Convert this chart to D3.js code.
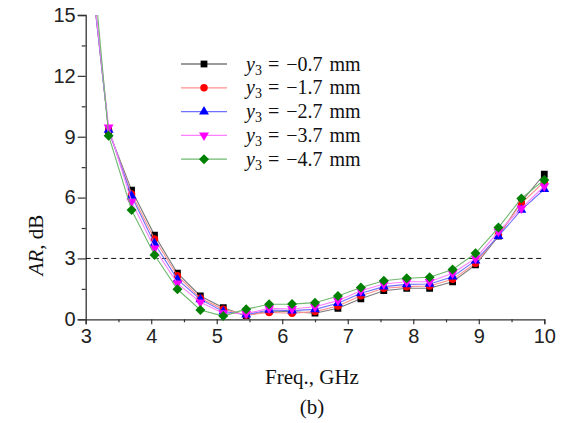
<!DOCTYPE html>
<html>
<head>
<meta charset="utf-8">
<script src="https://cdn.jsdelivr.net/npm/d3@7"></script>
<style>
  html, body { margin: 0; padding: 0; background: #fff; }
  svg { display: block; }
</style>
</head>
<body>
<svg id="chart" width="570" height="423"></svg>
<script>
// Frequency sweep (GHz)
const freq = [3.0, 3.35, 3.7, 4.05, 4.4, 4.75, 5.1, 5.45, 5.8, 6.15, 6.5, 6.85, 7.2, 7.55, 7.9, 8.25, 8.6, 8.95, 9.3, 9.65, 10.0];

// Axial ratio (dB) for each y3 offset
const ar07 = [19.6, 9.30, 6.37, 4.15, 2.27, 1.15, 0.57, 0.18, 0.41, 0.38, 0.30, 0.54, 1.01, 1.41, 1.53, 1.53, 1.85, 2.68, 4.10, 5.80, 7.15];
const ar17 = [19.6, 9.30, 6.18, 3.96, 2.15, 1.04, 0.49, 0.21, 0.34, 0.30, 0.38, 0.66, 1.16, 1.53, 1.61, 1.64, 1.97, 2.76, 4.15, 5.72, 6.78];
const ar27 = [19.6, 9.33, 6.08, 3.74, 1.97, 0.98, 0.38, 0.23, 0.46, 0.43, 0.49, 0.79, 1.28, 1.61, 1.72, 1.74, 2.10, 2.89, 4.10, 5.39, 6.41];
const ar37 = [19.8, 9.46, 5.80, 3.50, 1.77, 0.84, 0.30, 0.28, 0.54, 0.51, 0.62, 0.92, 1.41, 1.74, 1.85, 1.85, 2.27, 3.00, 4.32, 5.47, 6.57];
const ar47 = [21.5, 9.05, 5.39, 3.17, 1.48, 0.46, 0.16, 0.50, 0.74, 0.75, 0.82, 1.15, 1.57, 1.90, 2.02, 2.07, 2.46, 3.25, 4.52, 5.96, 6.87];

const seriesLabels = ["\u22120.7", "\u22121.7", "\u22122.7", "\u22123.7", "\u22124.7"];
const seriesValues = [ar07, ar17, ar27, ar37, ar47];
const seriesColors = ["#000000", "#ff0000", "#0000ff", "#ff00ff", "#008000"];
const lineColors = ["#7a7a7a", "#ff9090", "#7070ff", "#ff80ff", "#70b870"];
const markerShapes = ["square", "circle", "triUp", "triDown", "diamond"];

const xTicks = [3, 4, 5, 6, 7, 8, 9, 10];
const yTicks = [0, 3, 6, 9, 12, 15];
const threshold = 3;

const svg = d3.select("#chart");
const mLeft = 85.7, mRight = 544.3, mTop = 15, mBottom = 319.3;

const x = d3.scaleLinear().domain([3, 10]).range([mLeft, mRight]);
const y = d3.scaleLinear().domain([0, 15]).range([mBottom, mTop]);

svg.append("defs").append("clipPath").attr("id", "plotClip")
  .append("rect").attr("x", mLeft - 10).attr("y", mTop).attr("width", mRight - mLeft + 20).attr("height", mBottom - mTop + 10);

// Axes
const axisColor = "#333";
const xAxis = svg.append("g").attr("transform", `translate(0,${mBottom})`)
  .call(d3.axisBottom(x).tickValues(xTicks).tickSize(5).tickPadding(5).tickFormat(d3.format("d")));
const xMinor = svg.append("g").attr("transform", `translate(0,${mBottom})`)
  .call(d3.axisBottom(x).tickValues(d3.range(3.5, 10, 1)).tickSize(3).tickFormat(""));
const yAxis = svg.append("g").attr("transform", `translate(${mLeft},0)`)
  .call(d3.axisLeft(y).tickValues(yTicks).tickSize(8).tickPadding(2).tickFormat(d3.format("d")));
const yMinor = svg.append("g").attr("transform", `translate(${mLeft},0)`)
  .call(d3.axisLeft(y).tickValues(d3.range(1.5, 15, 3)).tickSize(4).tickFormat(""));

[xAxis, xMinor, yAxis, yMinor].forEach(g => {
  g.select(".domain").attr("stroke", axisColor).attr("stroke-width", 1.3);
  g.selectAll(".tick line").attr("stroke", axisColor).attr("stroke-width", 1.2);
  g.selectAll(".tick text").attr("fill", "#222")
    .style("font-family", "'Liberation Sans', Arial, sans-serif").style("font-size", "20px");
});
xMinor.select(".domain").remove();
yMinor.select(".domain").remove();

// 3 dB threshold
svg.append("line")
  .attr("x1", x(3)).attr("x2", x(10)).attr("y1", y(threshold)).attr("y2", y(threshold))
  .attr("stroke", "#111").attr("stroke-width", 1).attr("stroke-dasharray", "5,3.5");

// Curves
const plot = svg.append("g").attr("clip-path", "url(#plotClip)");
const line = d3.line().x((d, i) => x(freq[i])).y(d => y(d));

function markerPath(k) {
  switch (markerShapes[k]) {
    case "square": return d3.symbol(d3.symbolSquare, 46)();
    case "circle": return d3.symbol(d3.symbolCircle, 44)();
    case "triUp": return d3.symbol(d3.symbolTriangle, 42)();
    case "triDown": return d3.symbol(d3.symbolTriangle, 42)();
    default: return d3.symbol(d3.symbolSquare, 50)();
  }
}
function markerRot(k) {
  if (markerShapes[k] === "triDown") return " rotate(180)";
  if (markerShapes[k] === "diamond") return " rotate(45)";
  return "";
}

seriesValues.forEach((vals, k) => {
  const g = plot.append("g");
  g.append("path").datum(vals)
    .attr("d", line).attr("fill", "none")
    .attr("stroke", lineColors[k]).attr("stroke-width", 1.1);
  g.selectAll("path.mk").data(vals).join("path")
    .attr("class", "mk")
    .attr("d", markerPath(k))
    .attr("transform", (d, i) => `translate(${x(freq[i])},${y(d)})` + markerRot(k))
    .attr("fill", seriesColors[k]);
});

// Legend
const legend = svg.append("g");
const legY0 = 64, legDy = 23.8;
seriesLabels.forEach((lab, k) => {
  const cy = legY0 + k * legDy;
  legend.append("line").attr("x1", 181).attr("x2", 227).attr("y1", cy).attr("y2", cy)
    .attr("stroke", lineColors[k]).attr("stroke-width", 1.3);
  legend.append("path").attr("d", markerPath(k))
    .attr("transform", `translate(204,${cy})` + markerRot(k))
    .attr("fill", seriesColors[k]);
  const t = legend.append("text").attr("x", 246).attr("y", cy + 6.5)
    .style("font-family", "'Liberation Serif', 'Times New Roman', serif")
    .style("font-size", "20px").style("word-spacing", "2px").attr("fill", "#111");
  t.append("tspan").style("font-style", "italic").text("y");
  t.append("tspan").attr("dy", 4).style("font-size", "14px").text("3");
  t.append("tspan").attr("dy", -4).attr("dx", 6).text("= " + lab + " mm");
});

// Axis titles
const yt = svg.append("text")
  .attr("transform", `translate(43,${(mTop + mBottom) / 2 + 78}) rotate(-90)`)
  .attr("text-anchor", "middle")
  .style("font-family", "'Liberation Serif', 'Times New Roman', serif")
  .style("font-size", "21px").attr("fill", "#111");
yt.append("tspan").style("font-style", "italic").text("AR");
yt.append("tspan").text(", dB");

svg.append("text").attr("x", 312).attr("y", 384).attr("text-anchor", "middle")
  .style("font-family", "'Liberation Serif', 'Times New Roman', serif")
  .style("font-size", "21px").attr("fill", "#111").text("Freq., GHz");

svg.append("text").attr("x", 312).attr("y", 414).attr("text-anchor", "middle")
  .style("font-family", "'Liberation Serif', 'Times New Roman', serif")
  .style("font-size", "21px").attr("fill", "#111").text("(b)");
</script>
</body>
</html>
